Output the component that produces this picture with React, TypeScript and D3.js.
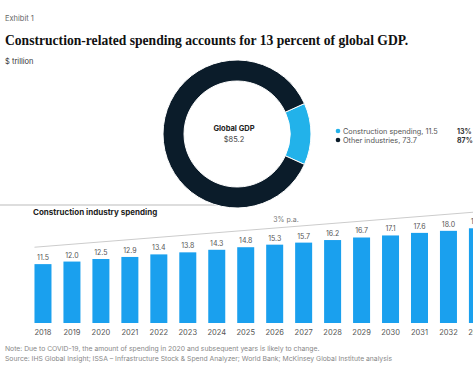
import React, { useEffect, useRef } from 'react';
import * as d3 from 'd3';

// data read from the exhibit
const years = ['2018', '2019', '2020', '2021', '2022', '2023', '2024', '2025', '2026', '2027', '2028', '2029', '2030', '2031', '2032', '2033'];
const spending = [11.5, 12.0, 12.5, 12.9, 13.4, 13.8, 14.3, 14.8, 15.3, 15.7, 16.2, 16.7, 17.1, 17.6, 18.0, 18.5];

const gdpLabels = ['Construction spending', 'Other industries'];
const gdpValues = [11.5, 73.7];
const gdpShares = ['13%', '87%'];
const gdpTotal = '$85.2';

// trend line ends (value units) and label
const trendValues = [14.8, 21.7];
const trendLabel = '3% p.a.';

const SANS = 'Inter, "Liberation Sans", sans-serif';
const BAR_BLUE = '#1aa0ee';
const SLICE_BLUE = '#22b2ea';
const NAVY = '#0b1c2a';

export default function App() {
  const svgRef = useRef<SVGSVGElement | null>(null);

  useEffect(() => {
    if (!svgRef.current) return;
    const svg = d3.select(svgRef.current);
    svg.selectAll('*').remove();

    // header
    svg.append('text').attr('x', 5).attr('y', 21).attr('font-family', SANS).attr('font-size', 7.5).attr('fill', '#666').text('Exhibit 1');
    svg.append('text').attr('x', 5).attr('y', 45).attr('font-family', '"Liberation Serif", serif').attr('font-weight', 'bold')
      .attr('font-size', 13.6).attr('fill', '#111').text('Construction-related spending accounts for 13 percent of global GDP.');
    svg.append('text').attr('x', 5).attr('y', 64).attr('font-family', SANS).attr('font-size', 7.5).attr('fill', '#333').text('$ trillion');

    // divider under donut
    svg.append('line').attr('x1', 0).attr('x2', 236).attr('y1', 205).attr('y2', 205).attr('stroke', '#bbb').attr('stroke-width', 1);

    // donut
    const cx = 237, cy = 134, rOuter = 74, rInner = 53;
    const half = (gdpValues[0] / d3.sum(gdpValues)) * Math.PI;
    const pie = d3.pie<number>().sort(null).startAngle(Math.PI / 2 - half).endAngle(Math.PI / 2 - half + 2 * Math.PI);
    const arc = d3.arc<d3.PieArcDatum<number>>().innerRadius(rInner).outerRadius(rOuter);
    const donut = svg.append('g').attr('transform', 'translate(' + cx + ',' + cy + ')');
    donut.selectAll('path').data(pie(gdpValues)).join('path')
      .attr('d', arc)
      .attr('fill', (d, i) => (i === 0 ? SLICE_BLUE : NAVY))
      .attr('stroke', '#fff').attr('stroke-width', 1);
    donut.append('text').attr('x', -3).attr('y', -3).attr('text-anchor', 'middle').attr('font-family', SANS).attr('font-weight', 'bold')
      .attr('font-size', 7.5).attr('fill', '#222').text('Global GDP');
    donut.append('text').attr('x', -3).attr('y', 8).attr('text-anchor', 'middle').attr('font-family', SANS)
      .attr('font-size', 7.5).attr('fill', '#444').text(gdpTotal);

    // legend
    const legend = svg.append('g').attr('transform', 'translate(338,131)');
    gdpLabels.forEach((lab, i) => {
      const row = legend.append('g').attr('transform', 'translate(0,' + i * 9 + ')');
      row.append('circle').attr('r', 2.3).attr('fill', i === 0 ? SLICE_BLUE : NAVY);
      row.append('text').attr('x', 5).attr('y', 2.5).attr('font-family', SANS).attr('font-size', 7.3).attr('fill', '#555')
        .text(lab + ', ' + gdpValues[i]);
      row.append('text').attr('x', 119).attr('y', 2.5).attr('font-family', SANS).attr('font-weight', 'bold').attr('font-size', 7)
        .attr('fill', '#333').text(gdpShares[i]);
    });

    // bar chart
    svg.append('text').attr('x', 33).attr('y', 215).attr('font-family', SANS).attr('font-weight', 'bold').attr('font-size', 8)
      .attr('fill', '#222').text('Construction industry spending');

    const x = d3.scaleBand().domain(years).range([28.5, 491.9]).paddingInner(0.413).paddingOuter(0.2065);
    const y = d3.scaleLinear().domain([0, 20]).range([323, 220.6]);

    // trend line
    const first = years[0], last = years[years.length - 1];
    svg.append('line')
      .attr('x1', (x(first) as number)).attr('y1', y(trendValues[0]))
      .attr('x2', (x(last) as number) + x.bandwidth() / 2).attr('y2', y(trendValues[1]))
      .attr('stroke', '#ccc').attr('stroke-width', 1);
    svg.append('text').attr('x', 286).attr('y', 222).attr('text-anchor', 'middle').attr('font-family', SANS).attr('font-size', 7)
      .attr('fill', '#777').text(trendLabel);

    const bars = svg.append('g');
    bars.selectAll('rect').data(spending).join('rect')
      .attr('x', (d, i) => x(years[i]) as number)
      .attr('y', (d) => y(d))
      .attr('width', x.bandwidth())
      .attr('height', (d) => y(0) - y(d))
      .attr('fill', BAR_BLUE);
    bars.selectAll('text.val').data(spending).join('text')
      .attr('class', 'val')
      .attr('x', (d, i) => (x(years[i]) as number) + x.bandwidth() / 2)
      .attr('y', (d) => y(d) - 4)
      .attr('text-anchor', 'middle').attr('font-family', SANS).attr('font-size', 7).attr('fill', '#555')
      .text((d) => d.toFixed(1));

    const xAxis = svg.append('g').attr('transform', 'translate(0,' + y(0) + ')').call(d3.axisBottom(x).tickSize(0).tickPadding(7));
    xAxis.select('.domain').remove();
    xAxis.selectAll('text').attr('font-family', SANS).attr('font-size', 7.5).attr('fill', '#555');

    // footnotes
    svg.append('text').attr('x', 5).attr('y', 351).attr('font-family', SANS).attr('font-size', 6.8).attr('fill', '#888')
      .text('Note: Due to COVID-19, the amount of spending in 2020 and subsequent years is likely to change.');
    svg.append('text').attr('x', 5).attr('y', 361).attr('font-family', SANS).attr('font-size', 6.8).attr('fill', '#888')
      .text('Source: IHS Global Insight; ISSA \u2013 Infrastructure Stock & Spend Analyzer; World Bank; McKinsey Global Institute analysis');
  }, []);

  return (
    <div style={{ position: 'absolute', left: 0, top: 0, width: 473, height: 371, overflow: 'hidden', background: '#fff' }}>
      <svg ref={svgRef} width={473} height={371} style={{ display: 'block' }} />
    </div>
  );
}
